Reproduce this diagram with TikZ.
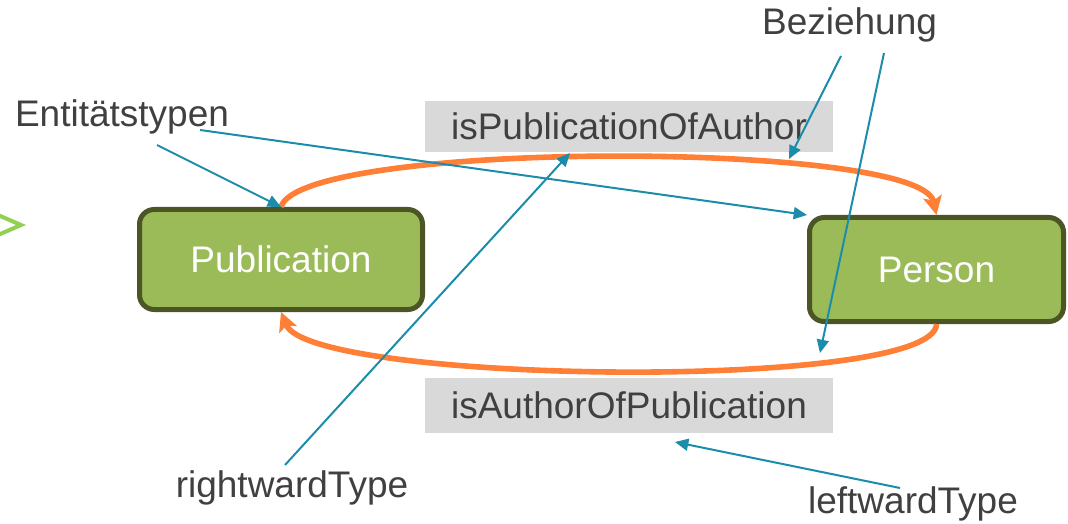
\documentclass[tikz,border=0pt]{standalone}
\usepackage{fontspec}
\setmainfont{Liberation Sans}
\usepackage{xcolor}
\usepackage{tikz}
\usetikzlibrary{arrows.meta,positioning}
\definecolor{boxgreen}{HTML}{9BBB59}
\definecolor{boxrim}{HTML}{4B5624}
\definecolor{relgray}{HTML}{D9D9D9}
\definecolor{txtgray}{HTML}{404040}
\definecolor{linkteal}{HTML}{1B8CAA}
\definecolor{arcorange}{HTML}{FF7F36}
\definecolor{chevgreen}{HTML}{92D050}
\tikzset{
	entity/.style={draw=boxrim,line width=3.75pt,fill=boxgreen,rounded corners=11pt,text=white,inner sep=0pt},
	relbox/.style={fill=relgray,text=txtgray,minimum width=306pt,inner sep=0pt},
	tag/.style={text=txtgray,inner sep=0pt,anchor=base},
	pointer/.style={linkteal,line width=1.5pt,-{Triangle[length=10pt,width=9pt]}},
	relarc/.style={arcorange,line width=4.2pt,-{Stealth[length=14pt,width=14pt,inset=3pt]}},
}

\begin{document}
\begin{tikzpicture}[x=0.75pt,y=-0.75pt,font=\fontsize{27.75}{33}\selectfont]
		\useasboundingbox (0,0) rectangle (1068,524);
		\draw[chevgreen,line width=3pt] (-2,215)--(21,225)--(-2,235);
		\node[entity,minimum width=212.25pt,minimum height=75pt] (pub) at (281,259.5) {Publication};
		\node[entity,minimum width=190.5pt,minimum height=78pt] (pers) at (936.5,269.5) {Person};
		\node[relbox,minimum height=38.25pt] (relUp) at (629,126.5) {isPublicationOfAuthor};
		\node[relbox,minimum height=41.25pt] (relDown) at (629,405.5) {isAuthorOfPublication};
		\node[tag] (entTag) at (122,127) {Entitätstypen};
		\node[tag] (bezTag) at (849.5,35) {Beziehung};
		\node[tag] (rwTag) at (292,497) {rightwardType};
		\node[tag] (lwTag) at (913,513) {leftwardType};
		\draw[relarc] (pub.north) .. controls (300,140) and (920,140) .. (pers.north);
		\draw[relarc] (pers.south) .. controls (935,392) and (310,384) .. (pub.south);
		\coordinate (entA) at (157,145);
		\coordinate (entB) at (200,130);
		\coordinate (rwStart) at (285,465);
		\coordinate (rwEnd) at (570,153);
		\coordinate (bzA) at (841,56);
		\coordinate (bzB) at (884,53);
		\coordinate (upHit) at (789,159);
		\coordinate (lowHit) at (820,353);
		\coordinate (lwStart) at (900,488);
		\coordinate (lwEnd) at (675,442);
		\draw[pointer] (entA)--(pub.north);
		\draw[pointer] (entB)--(pers.north west);
		\draw[pointer] (rwStart)--(rwEnd);
		\draw[pointer] (bzA)--(upHit);
		\draw[pointer] (bzB)--(lowHit);
		\draw[pointer] (lwStart)--(lwEnd);
	\end{tikzpicture}
\end{document}
